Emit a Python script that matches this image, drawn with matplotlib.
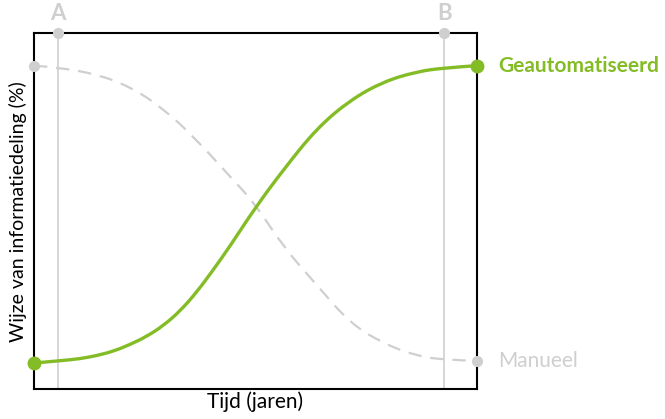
# S-curve: geautomatiseerde vs manuele informatiedeling

import matplotlib
matplotlib.use("Agg")
import matplotlib.pyplot as plt
from matplotlib.path import Path
from matplotlib.patches import PathPatch

plt.rcParams['font.family'] = ['Lato', 'DejaVu Sans']

# time axis (percent of the plotted span) and the two curves (%)
tijd_auto = [0, 5.5, 10.4, 14.2, 17.9, 21.7, 25.5, 29.2, 33.0, 36.8, 40.5, 44.3, 49.9,
             56.3, 63.9, 71.4, 78.9, 86.4, 92.7, 100]
geautomatiseerd = [7.3, 7.9, 8.5, 9.4, 10.6, 12.5, 14.8, 17.8, 21.9, 27.3, 33.5, 40.2, 50.8,
                   61.6, 73.3, 81.2, 86.4, 89.2, 90.3, 90.9]
tijd_man = [0, 5.5, 14.2, 21.7, 29.2, 36.8, 44.3, 49.9, 56.3, 63.9, 71.4, 78.9, 86.4, 92.7, 100]
manueel = [90.9, 90.4, 88.5, 85.0, 78.9, 70.0, 59.7, 52.2, 40.0, 29.2, 18.5, 12.8, 9.3, 8.2, 7.9]

markers = {"A": 5.5, "B": 92.7}

green = '#84bc26'
grey = '#cfcfcf'


def smooth_path(xs, ys):
    # quadratic bezier segments through the midpoints, ends kept fixed
    pts = list(zip(xs, ys))
    verts = [pts[0]]
    codes = [Path.MOVETO]
    n = len(pts)
    for i in range(1, n - 1):
        if i < n - 2:
            end = ((pts[i][0] + pts[i + 1][0]) / 2, (pts[i][1] + pts[i + 1][1]) / 2)
        else:
            end = pts[-1]
        verts += [pts[i], end]
        codes += [Path.CURVE3, Path.CURVE3]
    return Path(verts, codes)


fig = plt.figure(figsize=(6.65, 4.19), dpi=100)
ax = fig.add_axes([0.0511, 0.0716, 0.6657, 0.8489])
ax.set_xlim(0, 100)
ax.set_ylim(0, 100)
ax.set_xticks([])
ax.set_yticks([])
for s in ax.spines.values():
    s.set_linewidth(1.5)
    s.set_color('black')
    s.set_zorder(5)

# moments A and B
for lbl, xv in markers.items():
    ax.plot([xv, xv], [0, 100], color=grey, lw=1.2, zorder=1, clip_on=False)
    ax.plot(xv, 100, 'o', color=grey, ms=7, zorder=6, clip_on=False)
    ax.text(xv, 105.5, lbl, color=grey, fontsize=16, fontweight='bold',
            ha='center', va='center', clip_on=False)

# curves
ax.add_patch(PathPatch(smooth_path(tijd_man, manueel), fill=False, edgecolor=grey,
                       lw=1.6, linestyle=(0, (6, 4)), zorder=2))
ax.plot([tijd_man[0], tijd_man[-1]], [manueel[0], manueel[-1]], 'o', color=grey,
        ms=7, zorder=6, clip_on=False)
ax.add_patch(PathPatch(smooth_path(tijd_auto, geautomatiseerd), fill=False,
                       edgecolor=green, lw=2.4, capstyle='round', zorder=3))
ax.plot([tijd_auto[0], tijd_auto[-1]], [geautomatiseerd[0], geautomatiseerd[-1]], 'o',
        color=green, ms=9, zorder=7, clip_on=False)

ax.text(104.8, geautomatiseerd[-1], 'Geautomatiseerd', color=green, fontsize=15,
        fontweight='bold', ha='left', va='center', clip_on=False)
ax.text(104.8, manueel[-1], 'Manueel', color=grey, fontsize=15,
        ha='left', va='center', clip_on=False)

ax.set_xlabel('Tijd (jaren)', fontsize=15, labelpad=2)
ax.set_ylabel('Wijze van informatiedeling (%)', fontsize=14, labelpad=5)

fig.savefig('out.png', dpi=100)
